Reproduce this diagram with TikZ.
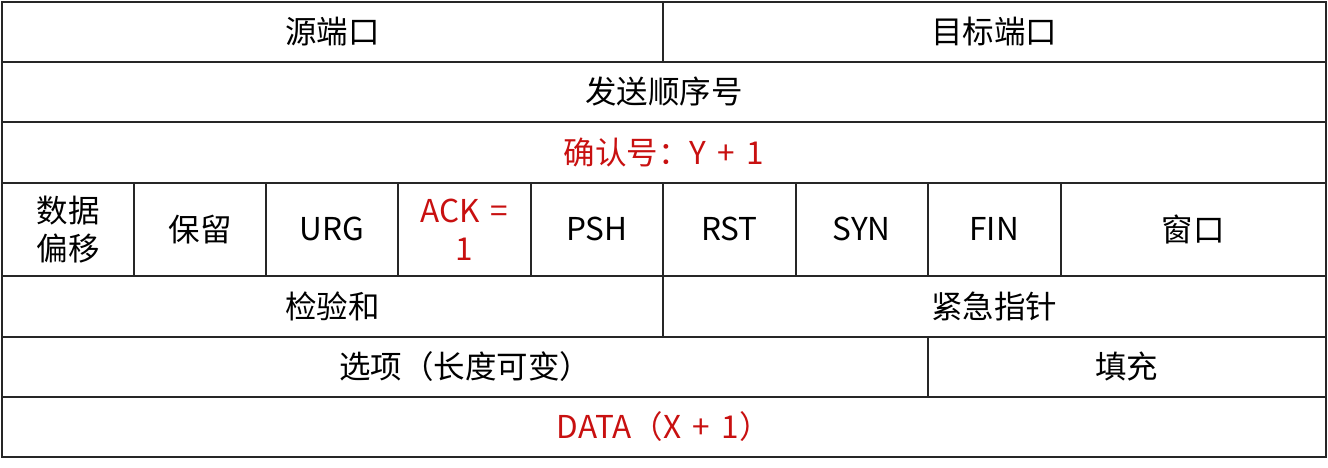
\documentclass[tikz,border=0pt]{standalone}
\usepackage{fontspec}
\setmainfont{Noto Sans CJK SC}
\definecolor{hlred}{RGB}{200,16,16}
\newcommand{\mkcell}[6]{%
  \node[cellbox, minimum width={(#4)-(#2)}, minimum height={(#5)-(#3)}]
    (#1) at ({((#2)+(#4))/2},{((#3)+(#5))/2}) {#6};}
\newcommand{\wsp}{\hspace{0.36em}}
\begin{document}
\begin{tikzpicture}[x=1pt,y=-1pt,
  cellbox/.style={draw=black!85, line width=2pt, inner sep=0pt, align=center,
    font=\fontsize{31.5}{38}\selectfont}]
\useasboundingbox (0,0) rectangle (1328,467);
% row 1
\mkcell{src}{2}{2}{663}{62}{源端口}
\mkcell{dst}{663}{2}{1325.5}{62}{目标端口}
% row 2
\mkcell{seq}{2}{62}{1325.5}{122}{发送顺序号}
% row 3
\mkcell{ack}{2}{122}{1325.5}{182.5}{\textcolor{hlred}{确认号：Y\wsp+\wsp1}}
% row 4
\mkcell{off}{2}{182.5}{134}{276}{数据\\偏移}
\mkcell{rsv}{134}{182.5}{266}{276}{保留}
\mkcell{urg}{266}{182.5}{398}{276}{URG}
\mkcell{ackf}{398}{182.5}{530.5}{276}{\textcolor{hlred}{ACK\wsp=}\\\textcolor{hlred}{1}}
\mkcell{psh}{530.5}{182.5}{663}{276}{PSH}
\mkcell{rst}{663}{182.5}{795.5}{276}{RST}
\mkcell{syn}{795.5}{182.5}{928}{276}{SYN}
\mkcell{fin}{928}{182.5}{1060.5}{276}{FIN}
\mkcell{win}{1060.5}{182.5}{1325.5}{276}{窗口}
% row 5
\mkcell{chk}{2}{276}{663}{336.5}{检验和}
\mkcell{urp}{663}{276}{1325.5}{336.5}{紧急指针}
% row 6
\mkcell{opt}{2}{336.5}{928}{397}{选项（长度可变）}
\mkcell{pad}{928}{336.5}{1325.5}{397}{填充}
% row 7
\mkcell{data}{2}{397}{1325.5}{457}{\textcolor{hlred}{DATA（X\wsp+\wsp1）}}
\end{tikzpicture}
\end{document}
